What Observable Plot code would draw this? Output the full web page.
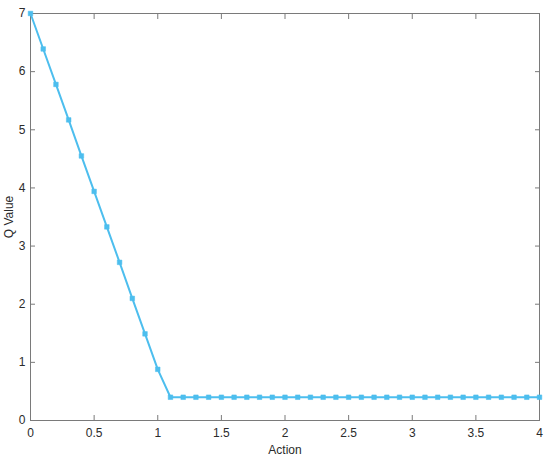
<!DOCTYPE html>
<html>
<head>
<meta charset="utf-8">
<script src="https://cdn.jsdelivr.net/npm/d3@7"></script>
<script src="https://cdn.jsdelivr.net/npm/@observablehq/plot@0.6"></script>
<style>
  html, body { margin: 0; padding: 0; background: #fff; }
  svg { display: block; }
</style>
</head>
<body>
<div id="chart"></div>
<script>
const actions = [0, 0.1, 0.2, 0.3, 0.4, 0.5, 0.6, 0.7, 0.8, 0.9, 1.0,
  1.1, 1.2, 1.3, 1.4, 1.5, 1.6, 1.7, 1.8, 1.9, 2.0,
  2.1, 2.2, 2.3, 2.4, 2.5, 2.6, 2.7, 2.8, 2.9, 3.0,
  3.1, 3.2, 3.3, 3.4, 3.5, 3.6, 3.7, 3.8, 3.9, 4.0];
const qValues = [7.0, 6.39, 5.78, 5.17, 4.55, 3.94, 3.33, 2.72, 2.10, 1.49, 0.88,
  0.4, 0.4, 0.4, 0.4, 0.4, 0.4, 0.4, 0.4, 0.4, 0.4,
  0.4, 0.4, 0.4, 0.4, 0.4, 0.4, 0.4, 0.4, 0.4, 0.4,
  0.4, 0.4, 0.4, 0.4, 0.4, 0.4, 0.4, 0.4, 0.4, 0.4];
const xTicks = [0, 0.5, 1, 1.5, 2, 2.5, 3, 3.5, 4];
const yTicks = [0, 1, 2, 3, 4, 5, 6, 7];

const data = actions.map((a, i) => ({action: a, q: qValues[i]}));
const lineColor = "#4DBEEE";
const axisColor = "#7a7a7a";
const textColor = "#2b2b2b";

const chart = Plot.plot({
  width: 550,
  height: 460,
  marginLeft: 30,
  marginRight: 11,
  marginTop: 13,
  marginBottom: 40,
  style: {fontFamily: "'Liberation Sans', Arial, sans-serif", fontSize: "12px", color: textColor, background: "#fff"},
  x: {domain: [0, 4]},
  y: {domain: [0, 7]},
  marks: [
    Plot.frame({stroke: axisColor}),
    Plot.axisX(xTicks, {anchor: "bottom", tickSize: -5, tickPadding: 13, stroke: axisColor, fill: textColor,
      label: "Action", labelAnchor: "center", labelOffset: 33, labelArrow: "none", tickFormat: d => String(d)}),
    Plot.axisX(xTicks, {anchor: "top", tickSize: -5, stroke: axisColor, tickFormat: () => "", label: null}),
    Plot.axisY(yTicks, {anchor: "left", tickSize: -5, tickPadding: 10, stroke: axisColor, fill: textColor,
      label: "Q Value", labelAnchor: "center", labelOffset: 26, labelArrow: "none", tickFormat: d => String(d)}),
    Plot.axisY(yTicks, {anchor: "right", tickSize: -5, stroke: axisColor, tickFormat: () => "", label: null}),
    Plot.line(data, {x: "action", y: "q", stroke: lineColor, strokeWidth: 2}),
    Plot.dot(data, {x: "action", y: "q", symbol: "square", r: 2.6, fill: lineColor, stroke: lineColor, strokeWidth: 0.5})
  ]
});
document.getElementById("chart").appendChild(chart);
</script>
</body>
</html>
